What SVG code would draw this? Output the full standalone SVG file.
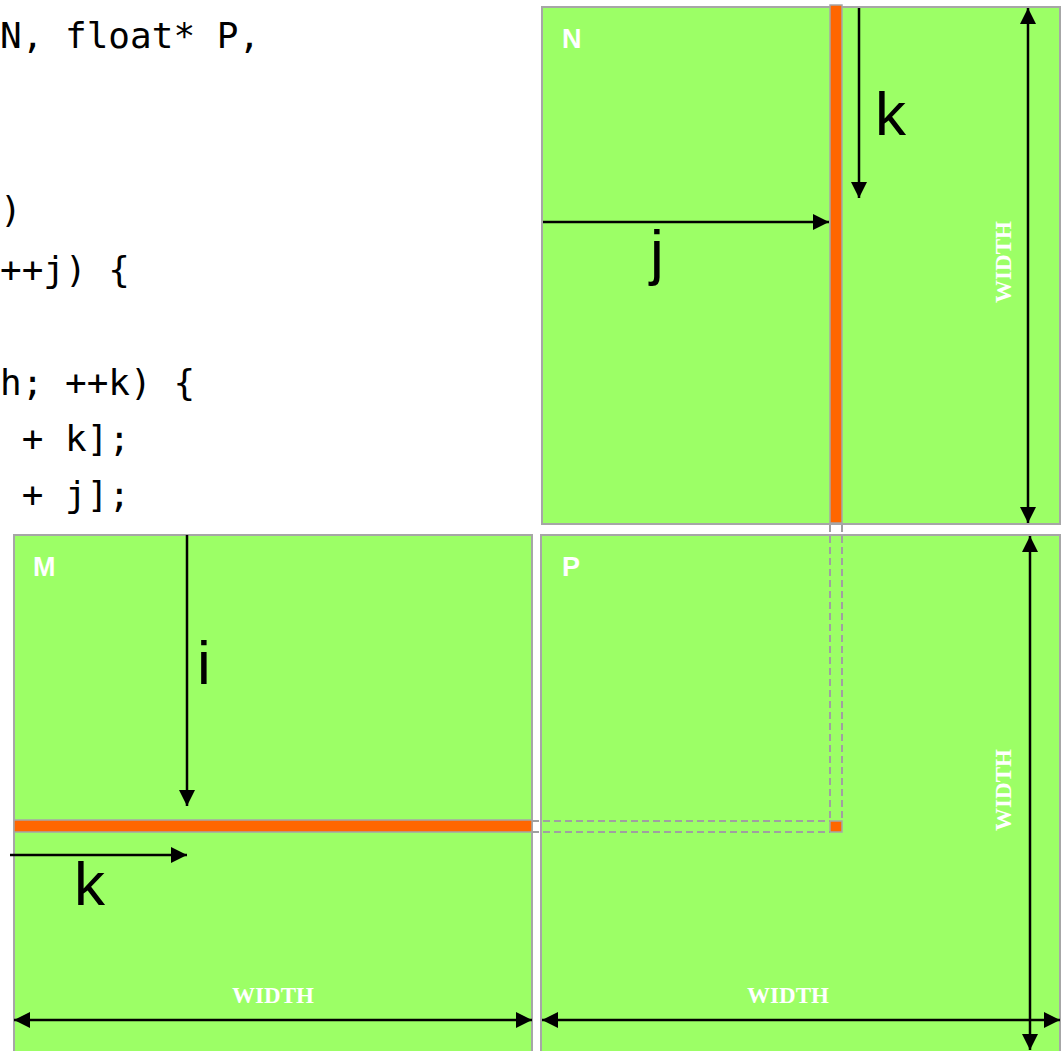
<svg xmlns="http://www.w3.org/2000/svg" width="1062" height="1051" viewBox="0 0 1062 1051">
  <style>
    .code { font-family: "DejaVu Sans Mono", "Liberation Mono", monospace; font-size: 36px; fill: #000; }
    .mat { fill: #9cff66; stroke: #a6a6a6; stroke-width: 2; }
    .strip { fill: #ff6600; stroke: #a6a6a6; stroke-width: 1.5; }
    .name { font-family: "Liberation Sans", Arial, sans-serif; font-weight: bold; font-size: 27px; fill: #fff; }
    .idx { font-family: "Liberation Sans", Arial, sans-serif; font-size: 62px; fill: #000; }
    .wid { font-family: "Liberation Serif", "Times New Roman", serif; font-weight: bold; font-size: 23px; fill: #fff; text-anchor: middle; }
    .arr { stroke: #000; stroke-width: 2.5; fill: none; }
    .dash { stroke: #a0a0a0; stroke-width: 2; fill: none; stroke-dasharray: 7 4; }
  </style>
  <defs>
    <marker id="ah" viewBox="0 0 10 10" refX="10" refY="5" markerWidth="6.4" markerHeight="6.4" markerUnits="strokeWidth" orient="auto-start-reverse">
      <path d="M0,0 L10,5 L0,10 z" fill="#000"/>
    </marker>
  </defs>
  <rect width="1062" height="1051" fill="#fff"/>

  <g id="code">
    <text class="code" x="0" y="48">N, float* P,</text>
    <text class="code" x="0" y="222">)</text>
    <text class="code" x="0" y="282">++j) {</text>
    <text class="code" x="0" y="395">h; ++k) {</text>
    <text class="code" x="21.7" y="451">+ k];</text>
    <text class="code" x="21.7" y="507">+ j];</text>
  </g>

  <g id="matrix-N">
    <rect class="mat" x="542" y="7" width="518" height="517"/>
    <text class="name" x="562" y="48">N</text>
    <rect class="strip" x="830" y="5" width="12" height="518"/>
  </g>

  <g id="matrix-M">
    <rect class="mat" x="14" y="535" width="518" height="530"/>
    <text class="name" x="33" y="576">M</text>
    <rect class="strip" x="14" y="820" width="518" height="12" stroke="none"/>
  </g>

  <g id="matrix-P">
    <rect class="mat" x="541" y="535" width="519" height="530"/>
    <text class="name" x="562" y="576">P</text>
    <rect class="strip" x="830" y="821" width="12" height="11"/>
  </g>

  <g id="connectors">
    <path class="dash" d="M532,821 H830 M532,832 H830 M830,525 V821 M842,525 V821"/>
    <line class="arr" x1="859" y1="8" x2="859" y2="198" marker-end="url(#ah)"/>
    <line class="arr" x1="543" y1="222" x2="829" y2="222" marker-end="url(#ah)"/>
    <line class="arr" x1="1028" y1="8" x2="1028" y2="523" marker-start="url(#ah)" marker-end="url(#ah)"/>
    <line class="arr" x1="187" y1="535" x2="187" y2="806" marker-end="url(#ah)"/>
    <line class="arr" x1="10" y1="855" x2="187" y2="855" marker-end="url(#ah)"/>
    <line class="arr" x1="14" y1="1020" x2="532" y2="1020" marker-start="url(#ah)" marker-end="url(#ah)"/>
    <line class="arr" x1="542" y1="1020" x2="1060" y2="1020" marker-start="url(#ah)" marker-end="url(#ah)"/>
    <line class="arr" x1="1030" y1="536" x2="1030" y2="1050" marker-start="url(#ah)" marker-end="url(#ah)"/>
  </g>

  <g id="labels">
    <text class="idx" x="875" y="135">k</text>
    <text class="idx" x="650" y="273">j</text>
    <text class="idx" x="197" y="684">i</text>
    <text class="idx" x="74" y="905">k</text>
    <text class="wid" x="273" y="1003">WIDTH</text>
    <text class="wid" x="788" y="1003">WIDTH</text>
    <text class="wid" transform="translate(1011,262) rotate(-90)">WIDTH</text>
    <text class="wid" transform="translate(1011,790) rotate(-90)">WIDTH</text>
  </g>
</svg>
